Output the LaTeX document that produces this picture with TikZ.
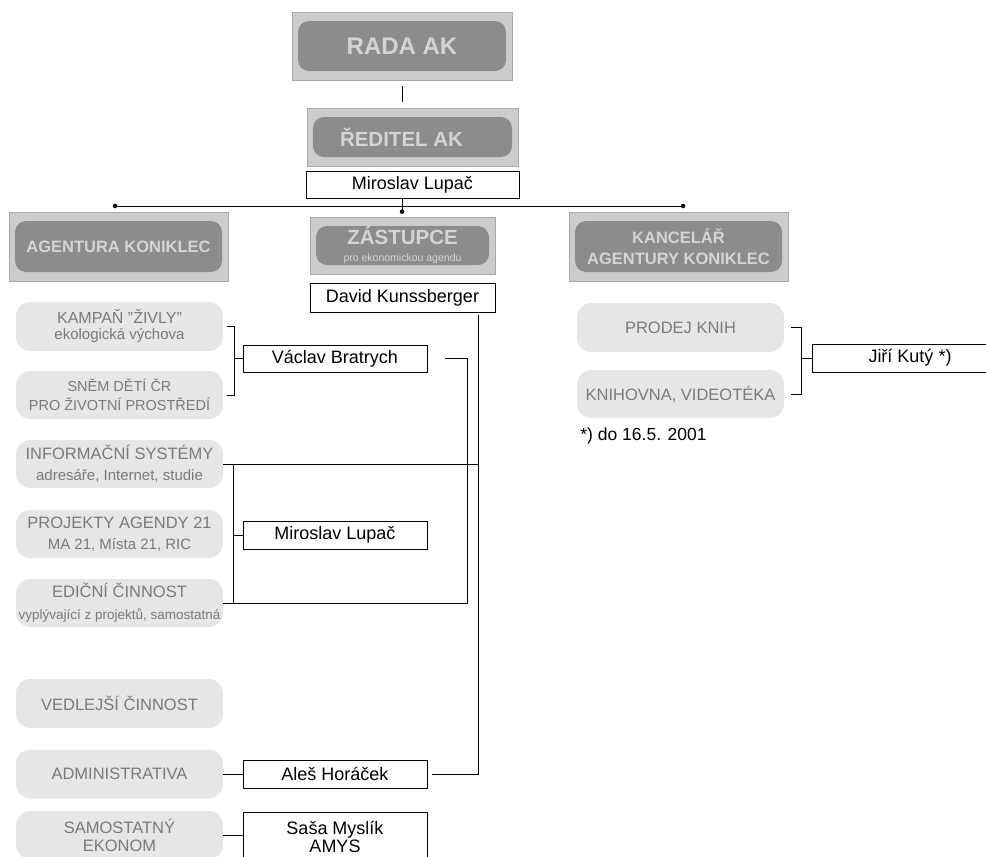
\documentclass[tikz,border=0pt]{standalone}
\usepackage{fontspec}
\setmainfont{Liberation Sans}
\usepackage{tikz}
\usetikzlibrary{positioning}

\definecolor{frame}{HTML}{CCCCCC}
\definecolor{frameline}{HTML}{A8A8A8}
\definecolor{headfill}{HTML}{8C8C8C}
\definecolor{headtext}{HTML}{D4D4D4}
\definecolor{unitfill}{HTML}{E6E6E6}
\definecolor{unittext}{HTML}{7A7A7A}

\newcommand{\subline}{\fontsize{15}{18}\selectfont}

\begin{document}
\begin{tikzpicture}[x=1pt, y=1pt, node distance={9pt}, line width=0.8pt,
            headbox/.style = {draw=frameline, fill=frame, inner sep=0pt, text=headtext, align=center,
                path picture={\fill[headfill, rounded corners=11pt]
                    ([shift={(6pt,-9pt)}]path picture bounding box.north west) rectangle
                    ([shift={(-6pt,9pt)}]path picture bounding box.south east);}},
            person/.style = {draw, fill=white, inner sep=0pt, minimum width=184pt, minimum height=28pt,
                align=center, font=\fontsize{18}{20}\selectfont},
            unit/.style = {fill=unitfill, rounded corners=14pt, text=unittext, inner sep=0pt,
                minimum width=207pt, minimum height=48pt, align=center, font=\fontsize{16.5}{19}\selectfont},
            dot/.style = {circle, fill, inner sep=0pt, minimum size=4.5pt}]
            \useasboundingbox (0,0) rectangle (986,-857);
            % Nodes
            \node[headbox, minimum width=220pt, minimum height=68pt, font=\bfseries\fontsize{24}{24}\selectfont] (rada) at (402,-46) {RADA AK};
            \node[headbox, minimum width=211pt, minimum height=58pt, font=\bfseries\fontsize{20.5}{21}\selectfont] (red) at (412.5,-137) {ŘEDITEL AK\hspace{22pt}};
            \node[person, minimum width=213pt, minimum height=27pt] (mir) [below=5pt of red] {Miroslav Lupač};
            \node[headbox, minimum width=219pt, minimum height=69pt, font=\bfseries\fontsize{16.5}{21}\selectfont] (agk) at (118.5,-246.5) {AGENTURA KONIKLEC};
            \node[headbox, minimum width=185pt, minimum height=57pt, font=\bfseries\fontsize{20.5}{17}\selectfont] (zast) at (402.5,-245.5) {ZÁSTUPCE\\{\mdseries\fontsize{10.5}{10}\selectfont pro ekonomickou agendu}};
            \node[headbox, minimum width=219pt, minimum height=69pt, font=\bfseries\fontsize{16.5}{21}\selectfont] (kanc) at (678.5,-246.5) {KANCELÁŘ\\AGENTURY KONIKLEC};
            \node[person, minimum width=185pt, minimum height=29pt] (dav) [below=of zast] {David Kunssberger};

            \node[unit, minimum height=49pt, font=\fontsize{16}{16}\selectfont] (kamp) at (119.5,-326.5) {KAMPAŇ {\char34}ŽIVLY{\char34}\\{\subline ekologická výchova}};
            \node[unit] (snem) at (119.5,-395) {\fontsize{14.5}{18}\selectfont SNĚM DĚTÍ ČR\\\fontsize{14.5}{18}\selectfont PRO ŽIVOTNÍ PROSTŘEDÍ};
            \node[unit, font=\fontsize{16.5}{21}\selectfont] (info) at (119.5,-464) {INFORMAČNÍ SYSTÉMY\\{\subline adresáře, Internet, studie}};
            \node[unit, font=\fontsize{16.5}{21}\selectfont] (proj) at (119.5,-534) {PROJEKTY AGENDY 21\\{\subline MA 21, Místa 21, RIC}};
            \node[unit, font=\fontsize{16.5}{22}\selectfont] (edic) at (119.5,-603) {EDIČNÍ ČINNOST\\{\fontsize{13.5}{16}\selectfont vyplývající z projektů, samostatná}};
            \node[unit, minimum height=49pt] (vedl) at (119.5,-703.5) {VEDLEJŠÍ ČINNOST};
            \node[unit, minimum height=49pt] (adm) at (119.5,-774) {ADMINISTRATIVA};
            \node[unit, font=\fontsize{16.5}{18}\selectfont] (samo) at (119.5,-835) {SAMOSTATNÝ\\EKONOM};

            \node[person, minimum height=27pt] (vac) at (335,-358.5) {Václav Bratrych};
            \node[person] (mir2) at (335,-535) {Miroslav Lupač};
            \node[person] (ales) at (335,-774) {Aleš Horáček};
            \node[person, minimum height=50pt, font=\fontsize{18}{18}\selectfont] (sasa) at (335,-837) {Saša Myslík\\AMYS};

            \node[unit, minimum height=49pt] (prod) at (680.5,-327.5) {PRODEJ KNIH};
            \node[unit] (knih) at (680.5,-394) {KNIHOVNA, VIDEOTÉKA};
            \node[person, minimum width=196pt] (jiri) at (910,-358) {Jiří Kutý *)};
            \node[anchor=west, inner sep=0pt, font=\fontsize{17.5}{20}\selectfont] (note) at (580,-436) {*) do 16.5. 2001};

            \coordinate (lt) at (115,-206);
            \coordinate (rt) at (683,-206);
            \coordinate (vr) at (467,-603);
            \coordinate (lx) at (233,-603);
            \coordinate (dl) at (478,-315);
            \coordinate (dr) at (478,-774);
            % Edges
            \draw ([yshift=-6pt]rada.south) -- ([yshift=6pt]red.north -| rada.south);
            \draw (lt) -- (rt);
            \draw (mir.south -| rada.south) -- ([yshift=5pt]zast.north -| rada.south);
            \node[dot] at (lt) {};
            \node[dot] at (rt) {};
            \node[dot] at ([yshift=5pt]zast.north -| rada.south) {};
            \draw ([xshift=4pt]kamp.east) -- ++(7pt,0) |- ([xshift=4pt]snem.east);
            \draw (vac.west) -- ++(-9pt,0);
            \draw ([xshift=18pt]vac.east) -| (vr) -- (edic.east);
            \draw (info.east) -- (info.east -| dl);
            \draw (info.east -| lx) -- (lx);
            \draw (mir2.west) -- (mir2.west -| lx);
            \draw (dl) -- (dr) -- ([xshift=5pt]ales.east);
            \draw (adm.east) -- (ales.west);
            \draw (samo.east) -- (samo.east -| sasa.west);
            \draw ([xshift=7pt]prod.east) -- ++(10pt,0) |- ([xshift=7pt]knih.east);
            \draw (jiri.west) -- ++(-11pt,0);
\end{tikzpicture}
\end{document}
